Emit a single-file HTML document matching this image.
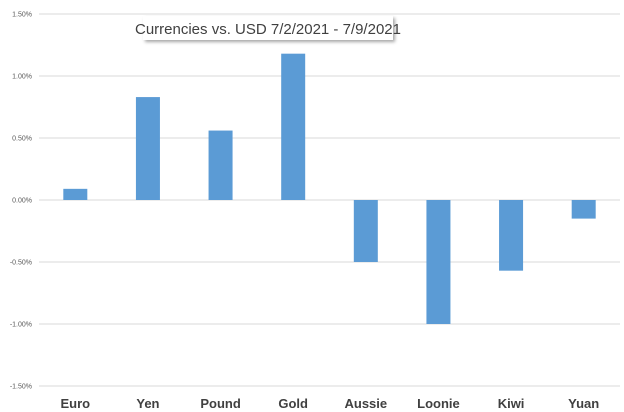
<!DOCTYPE html>
<html><head><meta charset="utf-8"><style>
body{margin:0;background:#fff;}
svg{display:block;font-family:"Liberation Sans",sans-serif;}
</style></head><body>
<svg id="chart" width="624" height="412">
<defs><filter id="sh" x="-10%" y="-30%" width="130%" height="180%"><feDropShadow dx="2" dy="2" stdDeviation="1.5" flood-color="#000" flood-opacity="0.35"/></filter></defs>
<g id="grid"></g><g id="bars"></g><g id="labels"></g>
<g>
<rect x="143" y="16" width="250" height="24" fill="#fff" filter="url(#sh)"/>
<text x="268" y="34" text-anchor="middle" font-size="15" fill="#404040">Currencies vs. USD 7/2/2021 - 7/9/2021</text>
</g>
</svg>
<script>
const categories=["Euro","Yen","Pound","Gold","Aussie","Loonie","Kiwi","Yuan"];
const values=[0.09,0.83,0.56,1.18,-0.50,-1.00,-0.57,-0.15];
const ticks=[1.5,1.0,0.5,0,-0.5,-1.0,-1.5];
const tickLabels=["1.50%","1.00%","0.50%","0.00%","-0.50%","-1.00%","-1.50%"];
const NS="http://www.w3.org/2000/svg";
const x0=39,x1=620,y0=200,pxPer=124;
const y=v=>y0-v*pxPer;
const step=(x1-x0)/categories.length;
const xc=i=>x0+step*(i+0.5);
function mk(t,a,p){const e=document.createElementNS(NS,t);for(const k in a)e.setAttribute(k,a[k]);p.appendChild(e);return e;}
const grid=document.getElementById('grid');
ticks.forEach((t,i)=>{
 const l=mk('line',{x1:x0,x2:x1,y1:y(t),y2:y(t),stroke:'#d9d9d9','stroke-width':1},grid);
 
 
 const tx=mk('text',{x:32,y:y(t)+2.5,'text-anchor':'end','font-size':7,fill:'#595959'},grid);
 tx.textContent=tickLabels[i];
 
 
});
const bars=document.getElementById('bars'),labels=document.getElementById('labels');
categories.forEach((c,i)=>{
 const v=values[i];
 const r=mk('rect',{x:xc(i)-12,y:Math.min(y(v),y0),width:24,height:Math.abs(y(v)-y0),fill:'#5b9bd5'},bars);
 
 
 const t=mk('text',{x:xc(i),y:408,'text-anchor':'middle','font-size':13,'font-weight':'bold',fill:'#404040'},labels);
 t.textContent=c;
 
 
});
</script>
</body></html>
